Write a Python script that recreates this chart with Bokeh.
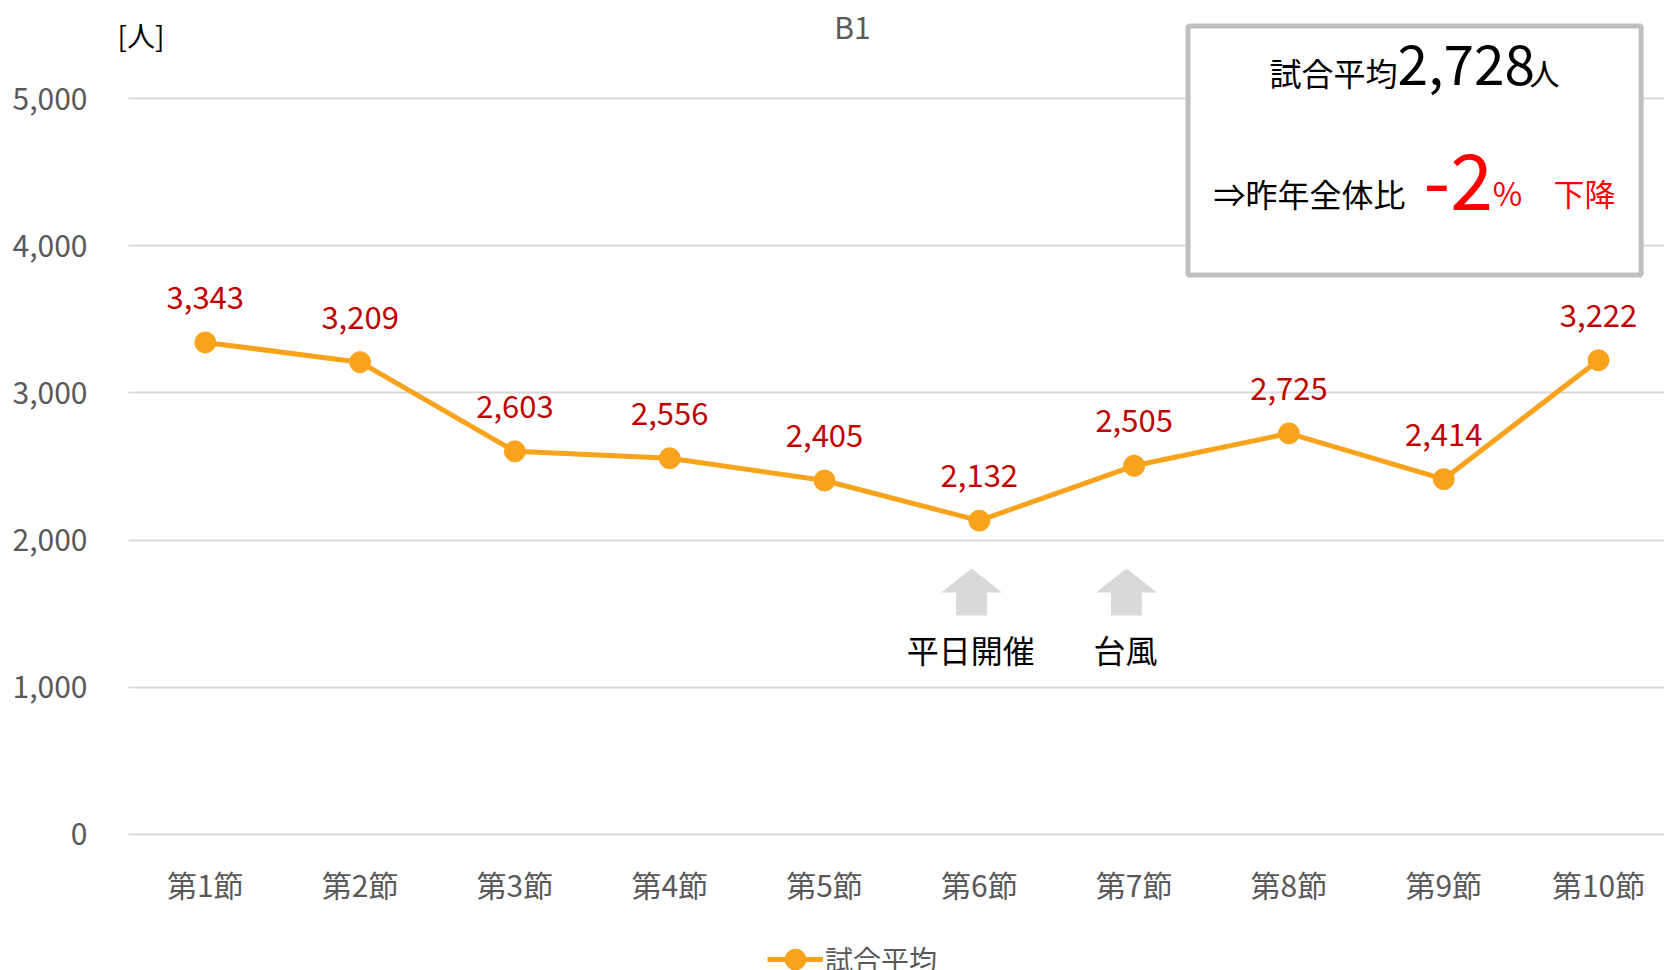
from bokeh.plotting import figure
from bokeh.models import (Range1d, FixedTicker, NumeralTickFormatter, Label,
                          BoxAnnotation, Legend, LegendItem, ColumnDataSource)
from bokeh.embed import file_html
from bokeh.resources import INLINE
from bokeh.core.properties import value

# ---------------- data ----------------
rounds = ["第1節", "第2節", "第3節", "第4節", "第5節",
          "第6節", "第7節", "第8節", "第9節", "第10節"]
attendance = [3343, 3209, 2603, 2556, 2405, 2132, 2505, 2725, 2414, 3222]
y_ticks = [0, 1000, 2000, 3000, 4000, 5000]
series_name = "試合平均"
chart_title = "B1"
unit_label = "[人]"
season_average = 2728
change_pct = -2
note_rounds = [5, 6]            # index into rounds
note_texts = ["平日開催", "台風"]

FONT = "Noto Sans CJK JP"
ORANGE = "#F9A21C"
GRAY_TXT = "#595959"
RED_LBL = "#C00000"

x_idx = list(range(len(rounds)))
src = ColumnDataSource(dict(
    x=x_idx, y=attendance,
    lbl=[f"{v:,}" for v in attendance],
    ly=[v + 306 for v in attendance],
))

X0, X1 = -0.496, 9.426           # plot-area extent in x units
p = figure(width=1664, height=970, output_backend="svg", toolbar_location=None,
           x_range=Range1d(-1.323, 9.426), y_range=Range1d(-924, 5666))
p.min_border = 0
p.min_border_left = 0
p.min_border_right = 0
p.min_border_top = 0
p.min_border_bottom = 0
p.outline_line_color = None
p.background_fill_color = "white"
p.border_fill_color = "white"

# axes (fixed inside the canvas)
yax = p.yaxis[0]
yax.fixed_location = X0
yax.ticker = FixedTicker(ticks=y_ticks)
yax.formatter = NumeralTickFormatter(format="0,0")
yax.axis_line_color = None
yax.major_tick_line_color = None
yax.minor_tick_line_color = None
yax.major_tick_in = 0
yax.major_tick_out = 0
yax.major_label_standoff = 41
yax.major_label_text_font = FONT
yax.major_label_text_font_size = "30px"
yax.major_label_text_color = GRAY_TXT

xax = p.xaxis[0]
xax.fixed_location = 0
xax.ticker = FixedTicker(ticks=x_idx)
xax.major_label_overrides = {i: r for i, r in enumerate(rounds)}
xax.axis_line_color = None
xax.major_tick_line_color = None
xax.minor_tick_line_color = None
xax.major_tick_in = 0
xax.major_tick_out = 0
xax.major_label_standoff = 28
xax.major_label_text_font = FONT
xax.major_label_text_font_size = "30px"
xax.major_label_text_color = GRAY_TXT

p.xgrid.grid_line_color = None
yg = p.ygrid[0]
yg.ticker = FixedTicker(ticks=y_ticks)
yg.grid_line_color = "#D9D9D9"
yg.grid_line_width = 2
yg.bounds = (0, 5000)
if "cross_bounds" in yg.properties():
    yg.cross_bounds = (X0, X1)

# arrows (notes)
for idx, txt in zip(note_rounds, note_texts):
    c = idx - 0.05
    hw, sw = 0.197, 0.100
    p.patch([c, c + hw, c + sw, c + sw, c - sw, c - sw, c - hw],
            [1807, 1644, 1644, 1488, 1488, 1644, 1644],
            fill_color="#D9D9D9", line_color=None)
    p.add_layout(Label(x=c - 0.005, y=1257, text=txt, text_align="center",
                       text_baseline="middle", text_font=FONT,
                       text_font_size="32px", text_color="#000000"))

# series
line_r = p.line("x", "y", source=src, line_color=ORANGE, line_width=5)
dot_r = p.scatter("x", "y", source=src, size=21, fill_color=ORANGE, line_color=ORANGE)
p.text("x", "ly", text="lbl", source=src, text_align="center",
       text_baseline="middle", text_font=value(FONT),
       text_font_size="31px", text_color=RED_LBL)

# title and unit
p.add_layout(Label(x=4.181, y=5496, text=chart_title, text_align="center",
                   text_baseline="middle", text_font=FONT,
                   text_font_size="30px", text_color=GRAY_TXT))
p.add_layout(Label(x=-0.567, y=5431, text=unit_label, text_align="left",
                   text_baseline="middle", text_font=FONT,
                   text_font_size="28px", text_color="#000000"))

# summary box
p.add_layout(BoxAnnotation(left=6.348, right=9.275, bottom=3801, top=5492,
                           fill_color="white", fill_alpha=1.0,
                           line_color="#BFBFBF", line_alpha=1.0, line_width=5))
p.add_layout(Label(x=6.875, y=5183, text=series_name, text_baseline="middle",
                   text_font=FONT, text_font_size="32px", text_color="#000000"))
p.add_layout(Label(x=7.702, y=5231, text=f"{season_average:,}", text_baseline="middle",
                   text_font=FONT, text_font_size="55px", text_color="#000000"))
p.add_layout(Label(x=8.554, y=5180, text="人", text_baseline="middle",
                   text_font=FONT, text_font_size="30px", text_color="#000000"))
p.add_layout(Label(x=6.513, y=4355, text="⇒昨年全体比", text_baseline="middle",
                   text_font=FONT, text_font_size="32px", text_color="#000000"))
p.add_layout(Label(x=7.870, y=4436, text=f"{change_pct}", text_baseline="middle",
                   text_font=FONT, text_font_size="77px", text_color="#FF0000"))
p.add_layout(Label(x=8.316, y=4368, text="%", text_baseline="middle",
                   text_font=FONT, text_font_size="32px", text_color="#FF0000"))
p.add_layout(Label(x=8.709, y=4360, text="下降", text_baseline="middle",
                   text_font=FONT, text_font_size="31px", text_color="#FF0000"))

# legend
legend = Legend(items=[LegendItem(label=series_name, renderers=[line_r, dot_r])],
                location=(767, -15), orientation="horizontal",
                glyph_width=56, glyph_height=52, padding=0, margin=0, spacing=0,
                label_standoff=2, border_line_color=None, background_fill_alpha=0,
                label_text_font=FONT, label_text_font_size="28px",
                label_text_color=GRAY_TXT)
p.add_layout(legend, "center")

open("out.html", "w").write(file_html(p, INLINE))
